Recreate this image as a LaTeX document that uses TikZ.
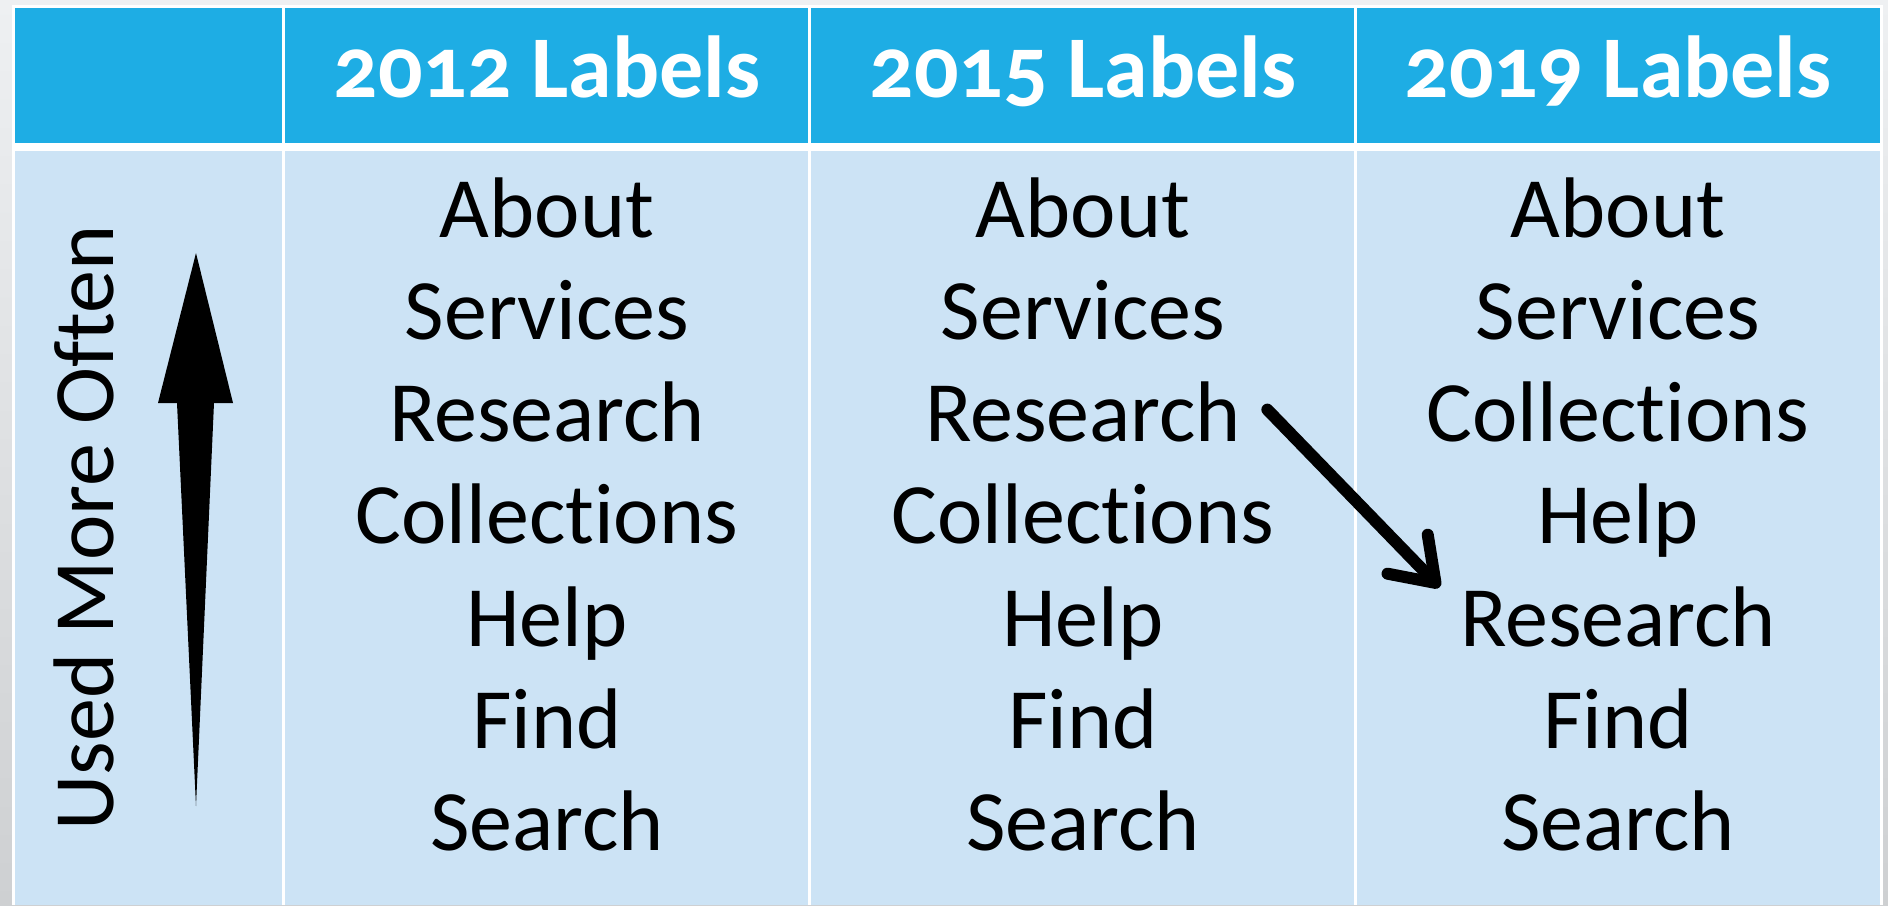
\documentclass[tikz,border=0pt]{standalone}
\usepackage{fontspec}
\setmainfont{Carlito}[Numbers=OldStyle, Ligatures=NoCommon]
\usetikzlibrary{arrows.meta}

\definecolor{hdrblue}{RGB}{30,173,228}
\definecolor{cellblue}{RGB}{204,227,245}
\definecolor{backtop}{RGB}{238,240,242}
\definecolor{backbot}{RGB}{206,208,210}

\tikzset{
  hdrcell/.style={fill=hdrblue},
  bodycell/.style={fill=cellblue},
  hdrtext/.style={anchor=base, inner sep=0pt, text=white, font=\fontsize{44}{50}\selectfont\bfseries},
  item/.style={anchor=base, inner sep=0pt, font=\fontsize{43}{50}\selectfont},
}

\begin{document}
\begin{tikzpicture}[x=0.5pt,y=-0.5pt]
    \useasboundingbox (0,0) rectangle (1888,905);
    % grey backdrop and white frame of the table
    \shade[top color=backtop, bottom color=backbot] (0,0) rectangle (1888,905);
    \fill[white] (12,5) rectangle (1883,905);

    % header row and body row, one cell per column
    \foreach \l/\r in {15/282, 285/808, 811/1354, 1357/1880} {
        \fill[hdrcell] (\l,8) rectangle (\r,143);
        \fill[bodycell] (\l,151) rectangle (\r,905);
    }

    % column titles
    \node[hdrtext] (h12) at (547,97) {2012 Labels};
    \node[hdrtext] (h15) at (1083,97) {2015 Labels};
    \node[hdrtext] (h19) at (1618,97) {2019 Labels};

    % labels, most used on top
    \foreach \w [count=\i] in {About,Services,Research,Collections,Help,Find,Search}
        \node[item] (a\i) at (547,{237+102.3*(\i-1)}) {\w};
    \foreach \w [count=\i] in {About,Services,Research,Collections,Help,Find,Search}
        \node[item] (b\i) at (1083,{237+102.3*(\i-1)}) {\w};
    \foreach \w [count=\i] in {About,Services,Collections,Help,Research,Find,Search}
        \node[item] (c\i) at (1618,{237+102.3*(\i-1)}) {\w};

    % side caption with the tapered arrow
    \node[item, rotate=90] (often) at (113,528) {Used More Often};
    \fill (196,253) -- (233,403) -- (214,403) -- (196,806) -- (177,403) -- (158,403) -- cycle;

    % Research moves down from 2015 to 2019
    \draw[line width=6pt, line cap=round,
          -{Straight Barb[length=20pt,width=28pt,line cap=round,line join=round]}]
        ([shift={(26,-32)}]b3.base east) -- ([shift={(-20,-59)}]c5.base west);
\end{tikzpicture}
\end{document}
